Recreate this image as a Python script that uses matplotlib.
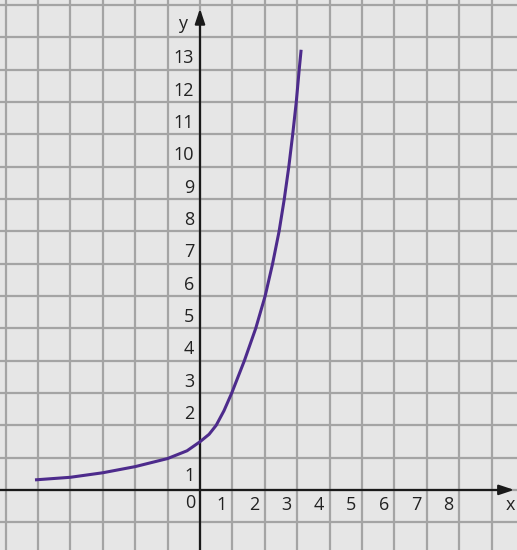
import matplotlib.pyplot as plt

# points
curve_x = [-5.09, -4.0, -3.0, -2.0, -1.0, -0.4, 0.0, 0.28, 0.5, 0.74, 0.98,
           1.37, 1.72, 2.01, 2.24, 2.44, 2.60, 2.74, 2.86, 2.97, 3.06, 3.12]
curve_y = [0.31, 0.39, 0.53, 0.72, 0.97, 1.21, 1.49, 1.72, 2.0, 2.45, 3.0,
           4.0, 5.0, 6.0, 7.0, 8.0, 9.0, 10.0, 11.0, 12.0, 13.0, 13.62]

x_labels = [1, 2, 3, 4, 5, 6, 7, 8]
y_labels = [2, 3, 4, 5, 6, 7, 8, 9, 10, 11, 12, 13]

plt.rcParams['font.family'] = ['Open Sans', 'DejaVu Sans']

fig = plt.figure(figsize=(5.17, 5.50), dpi=100)
ax = fig.add_axes([0, 0, 1, 1])
ax.set_xlim(-6.17, 9.78)
ax.set_ylim(-1.86, 15.16)
ax.axis('off')
ax.add_patch(plt.Rectangle((-6.17, -1.86), 15.95, 17.02, color='#e6e6e6', zorder=0))

grid_col = '#a4a4a4'
for gx in range(-6, 10):
    ax.axvline(gx, color=grid_col, lw=1.6, zorder=1)
for gy in range(-1, 16):
    ax.axhline(gy, color=grid_col, lw=1.6, zorder=1)

# axes with arrows
ax.plot([0, 0], [-1.86, 14.5], color='#1a1a1a', lw=1.6, zorder=3)
ax.plot([-6.17, 9.4], [0, 0], color='#1a1a1a', lw=1.6, zorder=3)
ax.annotate('', xy=(0, 14.98), xytext=(0, 14.3),
            arrowprops=dict(arrowstyle='-|>,head_length=0.9,head_width=0.3',
                            color='#1a1a1a', lw=1.6), zorder=4)
ax.annotate('', xy=(9.78, 0), xytext=(9.2, 0),
            arrowprops=dict(arrowstyle='-|>,head_length=0.9,head_width=0.3',
                            color='#1a1a1a', lw=1.6), zorder=4)

ax.plot(curve_x, curve_y, color='#4d2b8c', lw=2.2, zorder=5,
        solid_capstyle='butt', solid_joinstyle='round')

txt = dict(fontsize=13, color='#222222', zorder=6)
for n in x_labels:
    ax.text(n - 0.33, -0.47, str(n), ha='center', va='center', **txt)
for n in y_labels:
    ax.text(-0.18, n + 0.35, str(n), ha='right', va='center', **txt)
ax.text(-0.18, 0.43, '1', ha='right', va='center', **txt)
ax.text(-0.31, -0.42, '0', ha='center', va='center', **txt)
ax.text(9.59, -0.46, 'x', ha='center', va='center', **txt)
ax.text(-0.55, 14.42, 'y', ha='center', va='center', **txt)

fig.savefig('out.png', dpi=100)
